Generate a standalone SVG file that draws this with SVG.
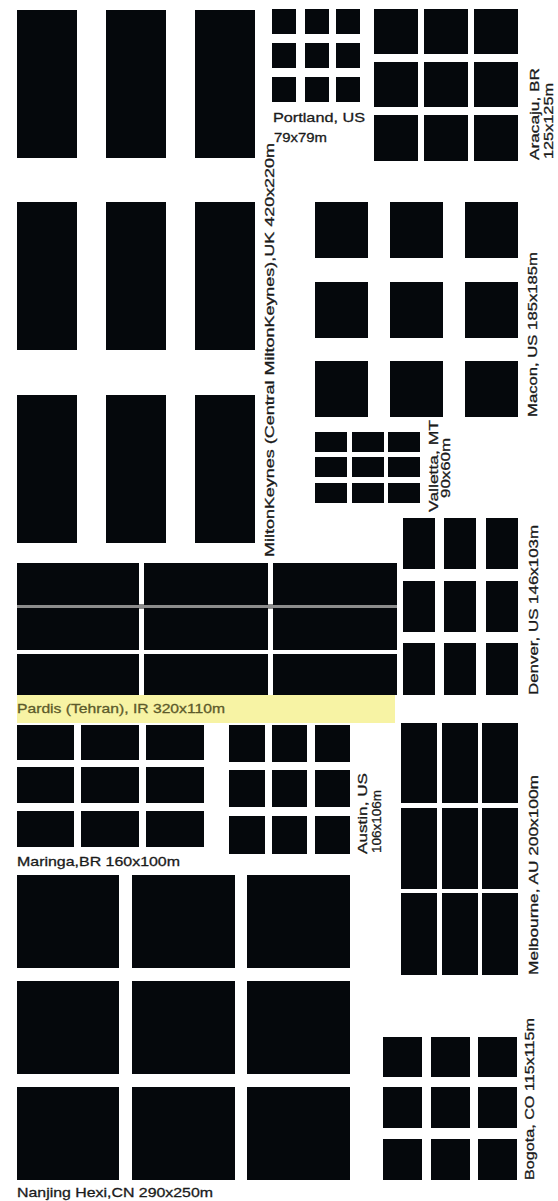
<svg xmlns="http://www.w3.org/2000/svg" width="558" height="1201" viewBox="0 0 558 1201">
<style>
.b{fill:#05080c}
.t{font-family:"Liberation Sans",Arial,sans-serif;font-size:13.5px;fill:#1a1a1a;stroke:#1a1a1a;stroke-width:0.3}
.v{font-family:"Liberation Sans",Arial,sans-serif;font-size:13.5px;fill:#1a1a1a;stroke:#1a1a1a;stroke-width:0.3}
</style>
<rect width="558" height="1201" fill="#ffffff"/>
<g id="miltonkeynes">
<rect class="b" x="17" y="10" width="60" height="148"/><rect class="b" x="106" y="10" width="60" height="148"/><rect class="b" x="195" y="10" width="60" height="148"/>
<rect class="b" x="17" y="202" width="60" height="148"/><rect class="b" x="106" y="202" width="60" height="148"/><rect class="b" x="195" y="202" width="60" height="148"/>
<rect class="b" x="17" y="395" width="60" height="148"/><rect class="b" x="106" y="395" width="60" height="148"/><rect class="b" x="195" y="395" width="60" height="148"/>
<text class="v" transform="translate(274,557) rotate(-90)" textLength="414" lengthAdjust="spacingAndGlyphs">MiltonKeynes (Central MiltonKeynes),UK 420x220m</text>
</g>
<g id="portland">
<rect class="b" x="272" y="9" width="24" height="25"/><rect class="b" x="305" y="9" width="24" height="25"/><rect class="b" x="336" y="9" width="24" height="25"/>
<rect class="b" x="272" y="43" width="24" height="25"/><rect class="b" x="305" y="43" width="24" height="25"/><rect class="b" x="336" y="43" width="24" height="25"/>
<rect class="b" x="272" y="77" width="24" height="25"/><rect class="b" x="305" y="77" width="24" height="25"/><rect class="b" x="336" y="77" width="24" height="25"/>
<text class="t" x="273" y="122" textLength="92" lengthAdjust="spacingAndGlyphs">Portland, US</text>
<text class="t" x="274" y="142" textLength="53" lengthAdjust="spacingAndGlyphs">79x79m</text>
</g>
<g id="aracaju">
<rect class="b" x="374" y="9" width="44" height="45"/><rect class="b" x="424" y="9" width="44" height="45"/><rect class="b" x="474" y="9" width="44" height="45"/>
<rect class="b" x="374" y="62" width="44" height="45"/><rect class="b" x="424" y="62" width="44" height="45"/><rect class="b" x="474" y="62" width="44" height="45"/>
<rect class="b" x="374" y="115" width="44" height="46"/><rect class="b" x="424" y="115" width="44" height="46"/><rect class="b" x="474" y="115" width="44" height="46"/>
<text class="v" transform="translate(539,160) rotate(-90)" textLength="92" lengthAdjust="spacingAndGlyphs">Aracaju, BR</text>
<text class="v" transform="translate(553,159) rotate(-90)" textLength="76" lengthAdjust="spacingAndGlyphs">125x125m</text>
</g>
<g id="macon">
<rect class="b" x="315" y="202" width="53" height="56"/><rect class="b" x="390" y="202" width="53" height="56"/><rect class="b" x="465" y="202" width="53" height="56"/>
<rect class="b" x="315" y="282" width="53" height="56"/><rect class="b" x="390" y="282" width="53" height="56"/><rect class="b" x="465" y="282" width="53" height="56"/>
<rect class="b" x="315" y="361" width="53" height="56"/><rect class="b" x="390" y="361" width="53" height="56"/><rect class="b" x="465" y="361" width="53" height="56"/>
<text class="v" transform="translate(537,417) rotate(-90)" textLength="165" lengthAdjust="spacingAndGlyphs">Macon, US 185x185m</text>
</g>
<g id="valletta">
<rect class="b" x="315" y="432" width="32" height="20"/><rect class="b" x="352" y="432" width="32" height="20"/><rect class="b" x="388" y="432" width="32" height="20"/>
<rect class="b" x="315" y="457" width="32" height="20"/><rect class="b" x="352" y="457" width="32" height="20"/><rect class="b" x="388" y="457" width="32" height="20"/>
<rect class="b" x="315" y="483" width="32" height="20"/><rect class="b" x="352" y="483" width="32" height="20"/><rect class="b" x="388" y="483" width="32" height="20"/>
<text class="v" transform="translate(438,466) rotate(-90)" text-anchor="middle" textLength="92" lengthAdjust="spacingAndGlyphs">Valletta, MT</text>
<text class="v" transform="translate(450,468) rotate(-90)" text-anchor="middle" textLength="60" lengthAdjust="spacingAndGlyphs">90x60m</text>
</g>
<g id="denver">
<rect class="b" x="403" y="518" width="32" height="51"/><rect class="b" x="444" y="518" width="32" height="51"/><rect class="b" x="486" y="518" width="32" height="51"/>
<rect class="b" x="403" y="581" width="32" height="51"/><rect class="b" x="444" y="581" width="32" height="51"/><rect class="b" x="486" y="581" width="32" height="51"/>
<rect class="b" x="403" y="643" width="32" height="52"/><rect class="b" x="444" y="643" width="32" height="52"/><rect class="b" x="486" y="643" width="32" height="52"/>
<text class="v" transform="translate(538,695) rotate(-90)" textLength="170" lengthAdjust="spacingAndGlyphs">Denver, US 146x103m</text>
</g>
<g id="pardis">
<rect x="17" y="604" width="380" height="5" fill="#8c8c8c"/>
<rect class="b" x="17" y="563" width="122" height="42"/><rect class="b" x="144" y="563" width="124" height="42"/><rect class="b" x="273" y="563" width="124" height="42"/>
<rect class="b" x="17" y="608" width="122" height="42"/><rect class="b" x="144" y="608" width="124" height="42"/><rect class="b" x="273" y="608" width="124" height="42"/>
<rect class="b" x="17" y="654" width="122" height="41"/><rect class="b" x="144" y="654" width="124" height="41"/><rect class="b" x="273" y="654" width="124" height="41"/>
<rect x="17" y="695" width="378" height="28" fill="#f7f3a4"/>
<text class="t" x="17" y="713" style="fill:#5c5a2a;stroke:#5c5a2a" textLength="208" lengthAdjust="spacingAndGlyphs">Pardis (Tehran), IR 320x110m</text>
</g>
<g id="maringa">
<rect class="b" x="17" y="725" width="57" height="35"/><rect class="b" x="81" y="725" width="58" height="35"/><rect class="b" x="146" y="725" width="58" height="35"/>
<rect class="b" x="17" y="767" width="57" height="36"/><rect class="b" x="81" y="767" width="58" height="36"/><rect class="b" x="146" y="767" width="58" height="36"/>
<rect class="b" x="17" y="811" width="57" height="36"/><rect class="b" x="81" y="811" width="58" height="36"/><rect class="b" x="146" y="811" width="58" height="36"/>
<text class="t" x="17" y="866" textLength="163" lengthAdjust="spacingAndGlyphs">Maringa,BR 160x100m</text>
</g>
<g id="austin">
<rect class="b" x="229" y="725" width="36" height="37"/><rect class="b" x="272" y="725" width="35" height="37"/><rect class="b" x="315" y="725" width="35" height="37"/>
<rect class="b" x="229" y="770" width="36" height="37"/><rect class="b" x="272" y="770" width="35" height="37"/><rect class="b" x="315" y="770" width="35" height="37"/>
<rect class="b" x="229" y="816" width="36" height="38"/><rect class="b" x="272" y="816" width="35" height="38"/><rect class="b" x="315" y="816" width="35" height="38"/>
<text class="v" transform="translate(367,854) rotate(-90)" textLength="81" lengthAdjust="spacingAndGlyphs">Austin, US</text>
<text class="v" transform="translate(381,853) rotate(-90)" textLength="63" lengthAdjust="spacingAndGlyphs">106x106m</text>
</g>
<g id="melbourne">
<rect class="b" x="401" y="723" width="36" height="80"/><rect class="b" x="442" y="723" width="36" height="80"/><rect class="b" x="482" y="723" width="36" height="80"/>
<rect class="b" x="401" y="808" width="36" height="81"/><rect class="b" x="442" y="808" width="36" height="81"/><rect class="b" x="482" y="808" width="36" height="81"/>
<rect class="b" x="401" y="893" width="36" height="82"/><rect class="b" x="442" y="893" width="36" height="82"/><rect class="b" x="482" y="893" width="36" height="82"/>
<text class="v" transform="translate(538,975) rotate(-90)" textLength="200" lengthAdjust="spacingAndGlyphs">Melbourne, AU 200x100m</text>
</g>
<g id="nanjing">
<rect class="b" x="17" y="875" width="102" height="93"/><rect class="b" x="132" y="875" width="103" height="93"/><rect class="b" x="247" y="875" width="103" height="93"/>
<rect class="b" x="17" y="981" width="102" height="93"/><rect class="b" x="132" y="981" width="103" height="93"/><rect class="b" x="247" y="981" width="103" height="93"/>
<rect class="b" x="17" y="1087" width="102" height="93"/><rect class="b" x="132" y="1087" width="103" height="93"/><rect class="b" x="247" y="1087" width="103" height="93"/>
<text class="t" x="17" y="1197" textLength="196" lengthAdjust="spacingAndGlyphs">Nanjing Hexi,CN 290x250m</text>
</g>
<g id="bogota">
<rect class="b" x="383" y="1037" width="39" height="40"/><rect class="b" x="431" y="1037" width="39" height="40"/><rect class="b" x="478" y="1037" width="39" height="40"/>
<rect class="b" x="383" y="1087" width="39" height="41"/><rect class="b" x="431" y="1087" width="39" height="41"/><rect class="b" x="478" y="1087" width="39" height="41"/>
<rect class="b" x="383" y="1139" width="39" height="41"/><rect class="b" x="431" y="1139" width="39" height="41"/><rect class="b" x="478" y="1139" width="39" height="41"/>
<text class="v" transform="translate(534,1180) rotate(-90)" textLength="162" lengthAdjust="spacingAndGlyphs">Bogota, CO 115x115m</text>
</g>
<g id="connectors"/>
</svg>
